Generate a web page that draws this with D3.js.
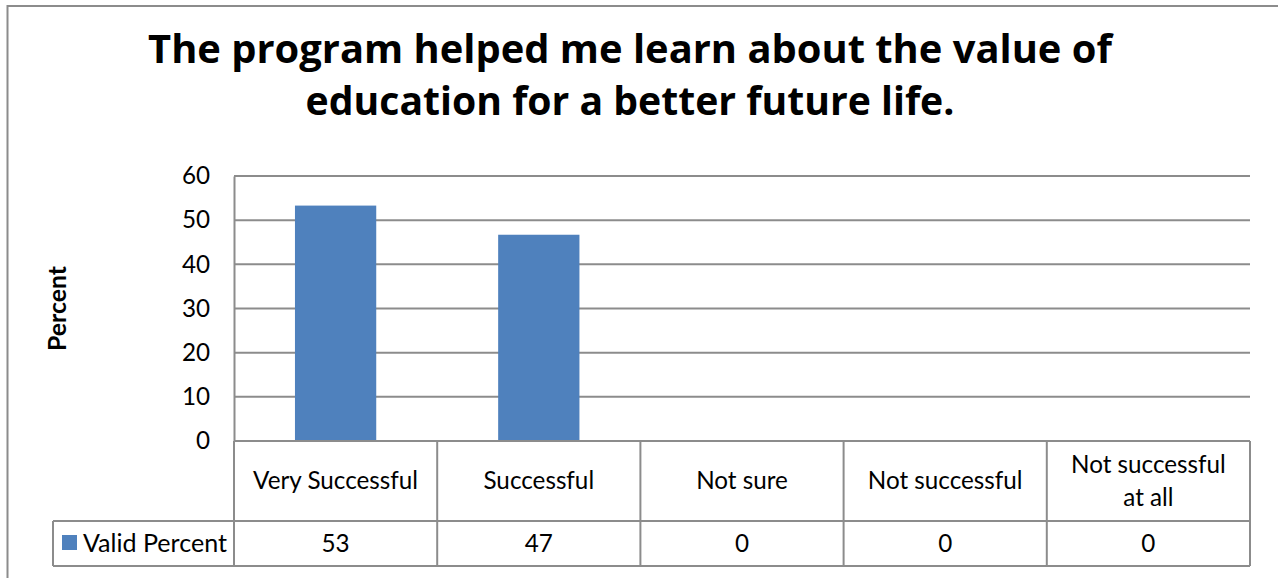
<!DOCTYPE html>
<html>
<head>
<meta charset="utf-8">
<script src="https://cdn.jsdelivr.net/npm/d3@7"></script>
<style>
  body { margin: 0; background: #fff; }
  svg text { font-variant-ligatures: none; }
</style>
</head>
<body>
<div id="chart"></div>
<script>
// data
const categories = ["Very Successful", "Successful", "Not sure", "Not successful", "Not successful at all"];
const valuesPct = [53.3, 46.7, 0, 0, 0];
const tableLabels = ["53", "47", "0", "0", "0"];
const seriesName = "Valid Percent";
const yTicks = [0, 10, 20, 30, 40, 50, 60];
const titleLines = ["The program helped me learn about the value of", "education for a better future life."];

const width = 1278, height = 578;
const font = "Lato, 'Open Sans', sans-serif";
const titleFont = "'Open Sans', sans-serif";
const grey = "#8c8c8c";
const barColor = "#4f81bd";

const plot = { left: 234, right: 1250, top: 176, bottom: 441 };
const rowCat = 521, rowVal = 566, legendLeft = 53;

const svg = d3.select("#chart").append("svg")
    .attr("width", width).attr("height", height)
    .style("font-family", font);

// outer frame (right and bottom edges fall outside the picture)
svg.append("rect")
    .attr("x", 7.5).attr("y", 6).attr("width", 1300).attr("height", 600)
    .attr("fill", "none").attr("stroke", grey).attr("stroke-width", 2);

// fit a text element to a target width by scaling its font size
function fitWidth(sel, w) {
    const cur = sel.node().getComputedTextLength();
    const fs = parseFloat(sel.style("font-size"));
    sel.style("font-size", (fs * w / cur) + "px");
}

// title
const titleWidths = [964, 649];
const titleBase = [63, 115];
titleLines.forEach((t, i) => {
    const tx = svg.append("text")
        .attr("x", 630).attr("y", titleBase[i])
        .attr("text-anchor", "middle")
        .style("font-family", titleFont)
        .style("font-weight", "bold").style("font-size", "38px")
        .text(t);
    fitWidth(tx, titleWidths[i]);
});

// body font size, scaled so "Very Successful" spans ~165px
const probe = svg.append("text").style("font-size", "20px").text("Very Successful");
const bodySize = 20 * 165 / probe.node().getComputedTextLength();
probe.remove();

const x = d3.scaleBand().domain(categories).range([plot.left, plot.right]);
const xBar = d3.scaleBand().domain(categories).range([plot.left, plot.right])
    .paddingInner(0.6).paddingOuter(0.3);
const y = d3.scaleLinear().domain([0, 60]).range([plot.bottom, plot.top]);

// gridlines
svg.append("g").selectAll("line")
    .data(yTicks.filter(d => d > 0))
    .join("line")
    .attr("x1", plot.left).attr("x2", plot.right)
    .attr("y1", d => y(d)).attr("y2", d => y(d))
    .attr("stroke", grey).attr("stroke-width", 2);

// y axis
const yAxis = svg.append("g")
    .attr("transform", `translate(${plot.left},0)`)
    .call(d3.axisLeft(y).tickValues(yTicks).tickSize(0).tickPadding(24));
yAxis.select(".domain").attr("stroke", grey).attr("stroke-width", 2);
yAxis.selectAll("text")
    .style("font-family", font).style("font-size", bodySize + "px").attr("fill", "#000");

// y title
const yTitle = svg.append("text")
    .attr("transform", `translate(66,${(plot.top + plot.bottom) / 2}) rotate(-90)`)
    .attr("text-anchor", "middle")
    .style("font-weight", "bold").style("font-size", (bodySize * 0.86) + "px")
    .text("Percent");
fitWidth(yTitle, 85);

// bars
svg.append("g").selectAll("rect")
    .data(categories)
    .join("rect")
    .attr("x", d => xBar(d))
    .attr("width", xBar.bandwidth())
    .attr("y", (d, i) => y(valuesPct[i]))
    .attr("height", (d, i) => y(0) - y(valuesPct[i]))
    .attr("fill", barColor);

// data table
const tbl = svg.append("g").attr("stroke", grey).attr("stroke-width", 2).attr("fill", "none");
tbl.append("line").attr("x1", plot.left).attr("x2", plot.right).attr("y1", plot.bottom).attr("y2", plot.bottom);
tbl.append("line").attr("x1", legendLeft).attr("x2", plot.right).attr("y1", rowCat).attr("y2", rowCat);
tbl.append("line").attr("x1", legendLeft).attr("x2", plot.right).attr("y1", rowVal).attr("y2", rowVal);
tbl.append("line").attr("x1", legendLeft).attr("x2", legendLeft).attr("y1", rowCat).attr("y2", rowVal);
tbl.selectAll(".col")
    .data(categories.map(c => x(c)).concat([plot.right]))
    .join("line")
    .attr("x1", d => d).attr("x2", d => d)
    .attr("y1", plot.bottom).attr("y2", rowVal);

// category labels (wrap the long one)
const catLines = categories.map(c => c === "Not successful at all" ? ["Not successful", "at all"] : [c]);
svg.append("g").selectAll("text")
    .data(categories)
    .join("text")
    .attr("text-anchor", "middle")
    .style("font-size", bodySize + "px")
    .each(function(d, i) {
        const lines = catLines[i];
        const cx = x(d) + x.bandwidth() / 2;
        const lh = 33;
        const base = 489 - (lines.length - 1) * lh / 2;
        lines.forEach((l, j) => {
            d3.select(this).append("tspan").attr("x", cx).attr("y", base + j * lh).text(l);
        });
    });

// value row
svg.append("g").selectAll("text")
    .data(categories)
    .join("text")
    .attr("x", d => x(d) + x.bandwidth() / 2)
    .attr("y", 552)
    .attr("text-anchor", "middle")
    .style("font-size", bodySize + "px")
    .text((d, i) => tableLabels[i]);

// legend cell
svg.append("rect")
    .attr("x", 62).attr("y", 535).attr("width", 15).attr("height", 15)
    .attr("fill", barColor);
const leg = svg.append("text")
    .attr("x", 83).attr("y", 552)
    .style("font-size", bodySize + "px")
    .text(seriesName);
fitWidth(leg, 144);
</script>
</body>
</html>
